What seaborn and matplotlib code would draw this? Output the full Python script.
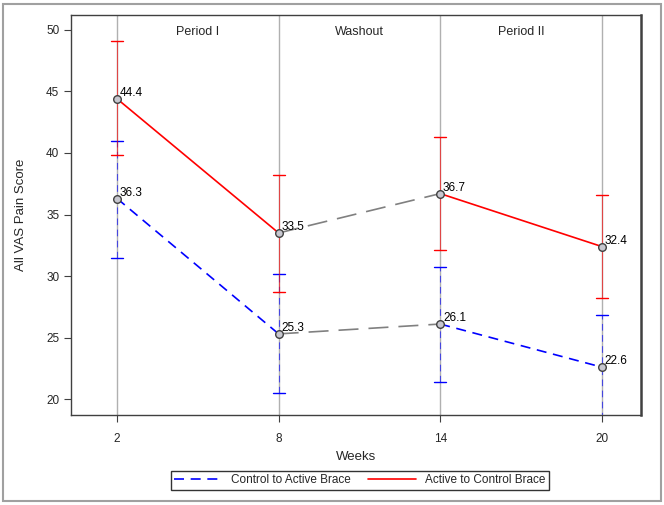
import matplotlib.pyplot as plt
import matplotlib.patches as mpatches
import seaborn as sns
import pandas as pd

weeks = [2, 8, 14, 20]
control_mean = [36.3, 25.3, 26.1, 22.6]
control_lo = [31.5, 20.5, 21.4, 18.4]
control_hi = [41.0, 30.2, 30.7, 26.8]
active_mean = [44.4, 33.5, 36.7, 32.4]
active_lo = [39.8, 28.7, 32.1, 28.2]
active_hi = [49.1, 38.2, 41.3, 36.6]
periods = ["Period I", "Washout", "Period II"]

sns.set_style("white")
plt.rcParams['font.family'] = ['Liberation Sans', 'DejaVu Sans']

fig = plt.figure(figsize=(6.64, 5.05), dpi=100)
ax = fig.add_axes([0.107, 0.178, 0.858, 0.792])

# reference lines at each visit
for w in weeks:
    ax.axvline(w, color='#b0b0b0', lw=1, zorder=0)

# error bars
for means, lo, hi, col, ls in [(control_mean, control_lo, control_hi, 'blue', (0, (6, 4))),
                               (active_mean, active_lo, active_hi, 'red', '-')]:
    for w, l, h in zip(weeks, lo, hi):
        ax.plot([w, w], [l, h], color=col, lw=0.8, ls=ls, alpha=0.6, zorder=1)
        ax.plot([w - 0.22, w + 0.22], [h, h], color=col, lw=1, zorder=1)
        ax.plot([w - 0.22, w + 0.22], [l, l], color=col, lw=1, zorder=1)

# treatment periods in colour, washout in gray
def seg(i, j, vals, col, dash):
    df = pd.DataFrame({'week': weeks[i:j + 1], 'score': vals[i:j + 1]})
    sns.lineplot(data=df, x='week', y='score', ax=ax, color=col, lw=1.2, zorder=2)
    line = ax.lines[-1]
    if dash is not None:
        line.set_dashes(dash)

seg(0, 1, control_mean, 'blue', (6, 4))
seg(1, 2, control_mean, 'gray', (12, 6))
seg(2, 3, control_mean, 'blue', (6, 4))
seg(0, 1, active_mean, 'red', None)
seg(1, 2, active_mean, 'gray', (12, 6))
seg(2, 3, active_mean, 'red', None)

pts = pd.DataFrame({'week': weeks * 2, 'score': control_mean + active_mean})
sns.scatterplot(data=pts, x='week', y='score', ax=ax, s=30, marker='o',
                facecolor='#c8c8d0', edgecolor='#404040', linewidth=1, zorder=3)

for w, v in zip(weeks * 2, control_mean + active_mean):
    ax.annotate(f"{v:.1f}", (w, v), xytext=(2, 2), textcoords='offset points',
                fontsize=8.5, color='black')

for k, p in enumerate(periods):
    ax.text((weeks[k] + weeks[k + 1]) / 2, 49.8, p, ha='center', va='center', fontsize=9)

ax.set_xlim(0.29, 21.45)
ax.set_ylim(18.7, 51.2)
ax.set_xticks(weeks)
ax.set_yticks([20, 25, 30, 35, 40, 45, 50])
ax.tick_params(axis='both', direction='out', length=5, width=0.8, labelsize=8.5,
               bottom=True, left=True, color='#404040')
ax.tick_params(axis='x', pad=8)
ax.set_xlabel("Weeks", fontsize=9.5, labelpad=4)
ax.set_ylabel("All VAS Pain Score", fontsize=9.5, labelpad=14)
for s in ax.spines.values():
    s.set_color('#404040')
    s.set_linewidth(1)
ax.spines['right'].set_linewidth(1.8)

handles = [plt.Line2D([], [], color='blue', lw=1.2, dashes=(6, 4)),
           plt.Line2D([], [], color='red', lw=1.2)]
fig.legend(handles, ["Control to Active Brace", "Active to Control Brace"],
           loc='center', bbox_to_anchor=(0.542, 0.049), ncol=2, fontsize=8.5,
           frameon=True, fancybox=False, edgecolor='black', handlelength=4,
           borderpad=0.3, columnspacing=1.5)

fig.patches.append(mpatches.Rectangle((0.005, 0.008), 0.99, 0.985, transform=fig.transFigure,
                                      fill=False, edgecolor='#a0a0a0', lw=1.5))

fig.savefig("out.png", dpi=100)
